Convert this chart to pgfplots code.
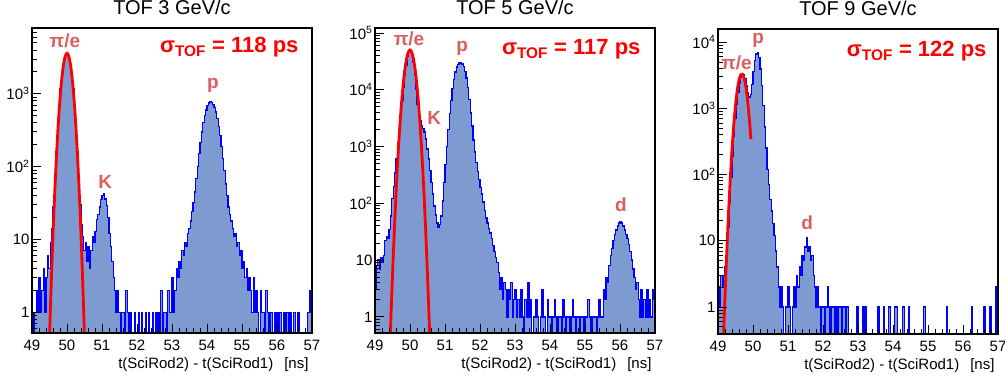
\documentclass[border=0pt]{standalone}
\usepackage{fontspec}
\setmainfont{Liberation Sans}
\usepackage{pgfplots}
\pgfplotsset{compat=1.18}
\definecolor{histfill}{RGB}{125,155,209}
\definecolor{lblred}{RGB}{220,95,95}
\pgfplotsset{
  tofax/.style={
    scale only axis, width=280bp, height=305bp,
    log origin y=infty,
    xmin=49, xmax=57,
    xtick={49,50,51,52,53,54,55,56,57},
    xticklabels={49,50,51,52,53,54,55,56,57},
    minor x tick num=4,
    tick pos=left, tick align=inside,
    major tick length=9bp, minor tick length=5bp,
    every tick/.append style={black, line width=0.8bp},
    axis line style={line width=1.8bp},
    axis on top,
    tick label style={font=\fontsize{15bp}{18bp}\selectfont},
    xticklabel style={anchor=base, yshift=-17bp},
    yticklabel style={anchor=east, xshift=1bp},
    title style={at={(axis description cs:0.5,1)}, anchor=base, yshift=8bp, font=\fontsize{20bp}{24bp}\selectfont},
    xlabel={t(SciRod2) - t(SciRod1)\hspace{11bp}[ns]},
    xlabel style={at={(axis description cs:1,0)}, anchor=base east, yshift=-35bp, font=\fontsize{15bp}{18bp}\selectfont},
  },
  myhist/.style={const plot mark left, draw=blue, line width=1.3bp, fill=histfill},
  myfit/.style={red, line width=2.8bp, smooth},
}
\tikzset{
  mylbl/.style={text=lblred, font=\fontsize{19bp}{22bp}\selectfont\bfseries},
  mysig/.style={text=red, anchor=base east, font=\fontsize{22bp}{26bp}\selectfont\bfseries},
}
\begin{document}
\begin{tikzpicture}
\useasboundingbox (-32bp,-45bp) rectangle (973bp,333bp);
% ---------------- Panel 1: 3 GeV/c ----------------
\begin{axis}[ymode=log, tofax, at={(0,0)}, title={TOF 3 GeV/c},
  ymin=0.52, ymax=8000,
  ytick={1,10,100,1000}, yticklabels={1,10,10\textsuperscript{2},10\textsuperscript{3}},
  minor ytick={0.6,0.7,0.8,0.9,2,3,4,5,6,7,8,9,20,30,40,50,60,70,80,90,200,300,400,500,600,700,800,900,2000,3000,4000,5000,6000,7000}]
\addplot[myhist] coordinates {
(49.00,1)(49.04,0.52)(49.08,1)(49.12,2)(49.16,1)(49.20,3)(49.24,1)(49.28,2)
(49.32,4)(49.36,1)(49.40,3)(49.44,6)(49.48,4)(49.52,9)(49.56,14)(49.60,28)
(49.64,66)(49.68,158)(49.72,344)(49.76,671)(49.80,1169)(49.84,1823)(49.88,2544)(49.92,3177)
(49.96,3550)(50.00,3550)(50.04,3177)(50.08,2544)(50.12,1823)(50.16,1169)(50.20,671)(50.24,344)
(50.28,158)(50.32,68)(50.36,30)(50.40,16)(50.44,11)(50.48,7)(50.52,9)(50.56,5)
(50.60,8)(50.64,4)(50.68,7)(50.72,11)(50.76,9)(50.80,13)(50.84,19)(50.88,22)
(50.92,28)(50.96,35)(51.00,40)(51.04,42)(51.08,36)(51.12,29)(51.16,20)(51.20,12)
(51.24,8)(51.28,5)(51.32,3)(51.36,2)(51.40,1)(51.44,2)(51.48,1)(51.52,0.52)
(51.56,1)(51.60,1)(51.64,0.52)(51.68,2)(51.72,1)(51.76,0.52)(51.80,1)(51.84,0.52)
(51.88,0.52)(51.92,1)(51.96,0.52)(52.00,0.52)(52.04,1)(52.08,0.52)(52.12,1)(52.16,0.52)
(52.20,0.52)(52.24,1)(52.28,0.52)(52.32,1)(52.36,0.52)(52.40,0.52)(52.44,1)(52.48,0.52)
(52.52,1)(52.56,0.52)(52.60,1)(52.64,0.52)(52.68,2)(52.72,0.52)(52.76,1)(52.80,1)
(52.84,0.52)(52.88,2)(52.92,1)(52.96,1)(53.00,3)(53.04,1)(53.08,2)(53.12,4)
(53.16,3)(53.20,5)(53.24,4)(53.28,7)(53.32,6)(53.36,9)(53.40,8)(53.44,12)
(53.48,14)(53.52,18)(53.56,24)(53.60,32)(53.64,45)(53.68,68)(53.72,100)(53.76,150)
(53.80,215)(53.84,300)(53.88,400)(53.92,505)(53.96,600)(54.00,690)(54.04,745)(54.08,770)
(54.12,760)(54.16,720)(54.20,650)(54.24,560)(54.28,460)(54.32,355)(54.36,265)(54.40,190)
(54.44,130)(54.48,88)(54.52,58)(54.56,40)(54.60,28)(54.64,22)(54.68,18)(54.72,14)
(54.76,11)(54.80,12)(54.84,8)(54.88,9)(54.92,6)(54.96,7)(55.00,4)(55.04,5)
(55.08,3)(55.12,4)(55.16,2)(55.20,3)(55.24,2)(55.28,1)(55.32,3)(55.36,1)
(55.40,2)(55.44,1)(55.48,0.52)(55.52,2)(55.56,1)(55.60,1)(55.64,0.52)(55.68,2)
(55.72,1)(55.76,0.52)(55.80,1)(55.84,1)(55.88,0.52)(55.92,1)(55.96,0.52)(56.00,1)
(56.04,0.52)(56.08,1)(56.12,0.52)(56.16,0.52)(56.20,1)(56.24,0.52)(56.28,1)(56.32,0.52)
(56.36,1)(56.40,0.52)(56.44,0.52)(56.48,1)(56.52,0.52)(56.56,0.52)(56.60,1)(56.64,0.52)
(56.68,0.52)(56.88,1)(56.92,2)(56.96,1)(57.00,1)
} \closedcycle;
\addplot[myfit] coordinates {
(49.45,0.069)(49.50,0.453)(49.55,2.50)(49.60,11.5)(49.65,44.2)(49.70,142)(49.75,382)(49.80,856)
(49.85,1605)(49.90,2514)(49.95,3291)(50.00,3600)(50.05,3291)(50.10,2514)(50.15,1605)(50.20,856)
(50.25,382)(50.30,142)(50.35,44.2)(50.40,11.5)(50.45,2.50)(50.50,0.453)(50.55,0.069)
};
\node[mylbl] at (axis cs:49.94,5300) {π/e};
\node[mylbl] at (axis cs:51.09,62) {K};
\node[mylbl] at (axis cs:54.17,1290) {p};
\node[mysig, xshift=-10bp, yshift=-25bp] at (rel axis cs:1,1) {σ\textsubscript{TOF} = 118 ps};
\end{axis}
% ---------------- Panel 2: 5 GeV/c ----------------
\begin{axis}[ymode=log, tofax, at={(343bp,0)}, title={TOF 5 GeV/c},
  ymin=0.52, ymax=122000,
  ytick={1,10,100,1000,10000,100000}, yticklabels={1,10,10\textsuperscript{2},10\textsuperscript{3},10\textsuperscript{4},10\textsuperscript{5}},
  minor ytick={0.6,0.7,0.8,0.9,2,3,4,5,6,7,8,9,20,30,40,50,60,70,80,90,200,300,400,500,600,700,800,900,2000,3000,4000,5000,6000,7000,8000,9000,20000,30000,40000,50000,60000,70000,80000,90000}]
\addplot[myhist] coordinates {
(49.00,3)(49.04,8)(49.08,10)(49.12,7)(49.16,11)(49.20,9)(49.24,12)(49.28,22)
(49.32,26)(49.36,24)(49.40,35)(49.44,60)(49.48,120)(49.52,200)(49.56,340)(49.60,620)
(49.64,1150)(49.68,2000)(49.72,3600)(49.76,6500)(49.80,11000)(49.84,18000)(49.88,27000)(49.92,38000)
(49.96,48000)(50.00,49000)(50.04,42000)(50.08,30000)(50.12,18000)(50.16,10000)(50.20,5500)(50.24,3600)
(50.28,2800)(50.32,2300)(50.36,2100)(50.40,1800)(50.44,1350)(50.48,900)(50.52,600)(50.56,380)
(50.60,230)(50.64,145)(50.68,90)(50.72,62)(50.76,45)(50.80,38)(50.84,42)(50.88,60)
(50.92,110)(50.96,230)(51.00,480)(51.04,1000)(51.08,2000)(51.12,3800)(51.16,6500)(51.20,10500)
(51.24,15000)(51.28,20500)(51.32,25000)(51.36,28000)(51.40,29500)(51.44,29800)(51.48,28500)(51.52,25500)
(51.56,21000)(51.60,16000)(51.64,11000)(51.68,6800)(51.72,3900)(51.76,2300)(51.80,1300)(51.84,800)
(51.88,520)(51.92,360)(51.96,260)(52.00,190)(52.04,145)(52.08,105)(52.12,75)(52.16,55)
(52.20,45)(52.24,36)(52.28,30)(52.32,24)(52.36,18)(52.40,14)(52.44,11)(52.48,9)
(52.52,6)(52.56,3)(52.60,5)(52.64,2)(52.68,4)(52.72,3)(52.76,1)(52.80,3)
(52.84,2)(52.88,4)(52.92,1)(52.96,2)(53.00,3)(53.04,1)(53.08,2)(53.12,1)
(53.16,3)(53.20,1)(53.24,0.52)(53.28,2)(53.32,1)(53.36,4)(53.40,1)(53.44,2)
(53.48,0.52)(53.52,1)(53.56,1)(53.60,2)(53.64,1)(53.68,0.52)(53.72,1)(53.76,3)
(53.80,1)(53.84,1)(53.88,0.52)(53.92,2)(53.96,1)(54.00,1)(54.04,0.52)(54.08,1)
(54.12,2)(54.16,1)(54.20,0.52)(54.24,1)(54.28,1)(54.32,0.52)(54.36,2)(54.40,1)
(54.44,0.52)(54.48,1)(54.52,1)(54.56,0.52)(54.60,1)(54.64,2)(54.68,1)(54.72,0.52)
(54.76,1)(54.80,1)(54.84,0.52)(54.88,1)(54.92,1)(54.96,0.52)(55.00,1)(55.04,1)
(55.08,2)(55.12,1)(55.16,0.52)(55.20,1)(55.24,1)(55.28,1)(55.32,0.52)(55.36,1)
(55.40,2)(55.44,1)(55.48,1)(55.52,3)(55.56,2)(55.60,5)(55.64,4)(55.68,8)
(55.72,12)(55.76,16)(55.80,22)(55.84,28)(55.88,34)(55.92,40)(55.96,45)(56.00,47)
(56.04,45)(56.08,40)(56.12,34)(56.16,28)(56.20,24)(56.24,19)(56.28,14)(56.32,10)
(56.36,7)(56.40,5)(56.44,3)(56.48,4)(56.52,2)(56.56,1)(56.60,3)(56.64,1)
(56.68,2)(56.72,1)(56.76,3)(56.80,1)(56.84,2)(56.88,1)(56.92,3)(56.96,2)(57.00,2)
} \closedcycle;
\addplot[myfit] coordinates {
(49.40,0.097)(49.45,0.79)(49.50,5.4)(49.55,30.7)(49.60,144.8)(49.65,570)(49.70,1868)(49.75,5100)
(49.80,11600)(49.85,21980)(49.90,34700)(49.95,45636)(50.00,50000)(50.05,45636)(50.10,34700)(50.15,21980)
(50.20,11600)(50.25,5100)(50.30,1868)(50.35,570)(50.40,144.8)(50.45,30.7)(50.50,5.4)(50.55,0.79)(50.60,0.097)
};
\node[mylbl] at (axis cs:49.97,78000) {π/e};
\node[mylbl] at (axis cs:50.69,3180) {K};
\node[mylbl] at (axis cs:51.49,54000) {p};
\node[mylbl] at (axis cs:56.03,96) {d};
\node[mysig, xshift=-11bp, yshift=-27bp] at (rel axis cs:1,1) {σ\textsubscript{TOF} = 117 ps};
\end{axis}
% ---------------- Panel 3: 9 GeV/c ----------------
\begin{axis}[ymode=log, tofax, at={(686bp,-1bp)}, title={TOF 9 GeV/c},
  ymin=0.39, ymax=15700,
  ytick={1,10,100,1000,10000}, yticklabels={1,10,10\textsuperscript{2},10\textsuperscript{3},10\textsuperscript{4}},
  minor ytick={0.4,0.5,0.6,0.7,0.8,0.9,2,3,4,5,6,7,8,9,20,30,40,50,60,70,80,90,200,300,400,500,600,700,800,900,2000,3000,4000,5000,6000,7000,8000,9000}]
\addplot[myhist] coordinates {
(49.00,2)(49.04,1)(49.08,3)(49.12,2)(49.16,3)(49.20,4)(49.24,8)(49.28,16)
(49.32,38)(49.36,90)(49.40,190)(49.44,380)(49.48,700)(49.52,1150)(49.56,1750)(49.60,2400)
(49.64,2950)(49.68,3250)(49.72,3200)(49.76,2800)(49.80,2200)(49.84,1700)(49.88,1480)(49.92,1600)
(49.96,2300)(50.00,3600)(50.04,5200)(50.08,6600)(50.12,6900)(50.16,5800)(50.20,3900)(50.24,2200)
(50.28,1100)(50.32,520)(50.36,250)(50.40,120)(50.44,70)(50.48,42)(50.52,28)(50.56,18)
(50.60,12)(50.64,7)(50.68,4)(50.72,2)(50.76,1)(50.80,2)(50.84,1)(50.88,0.39)
(50.92,1)(50.96,1)(51.00,2)(51.04,1)(51.08,0.39)(51.12,1)(51.16,2)(51.20,1)
(51.24,3)(51.28,2)(51.32,4)(51.36,3)(51.40,6)(51.44,5)(51.48,8)(51.52,11)
(51.56,7)(51.60,8)(51.64,5)(51.68,6)(51.72,3)(51.76,2)(51.80,1)(51.84,2)
(51.88,1)(51.92,0.39)(51.96,1)(52.00,1)(52.04,0.39)(52.08,1)(52.12,2)(52.16,1)
(52.20,0.39)(52.24,1)(52.28,1)(52.32,0.39)(52.36,1)(52.40,0.39)(52.44,1)(52.48,1)
(52.52,0.39)(52.56,1)(52.60,1)(52.64,0.39)(52.68,1)(52.72,0.39)(52.96,1)(53.00,0.39)
(53.12,1)(53.16,0.39)(53.20,1)(53.24,0.39)(53.56,1)(53.60,0.39)(53.72,1)(53.76,0.39)
(53.88,1)(53.92,0.39)(54.04,1)(54.08,1)(54.12,0.39)(54.28,1)(54.32,0.39)(54.44,1)
(54.48,0.39)(54.88,1)(54.92,0.39)(55.52,1)(55.56,0.39)(56.24,1)(56.28,0.39)(56.60,1)
(56.64,0.39)(56.76,1)(56.80,0.39)(56.92,2)(56.96,0.39)(57.00,0.39)
} \closedcycle;
\addplot[myfit] coordinates {
(49.15,0.26)(49.20,1.44)(49.25,6.6)(49.30,25.8)(49.35,85)(49.40,237)(49.45,558)(49.50,1111)
(49.55,1870)(49.60,2662)(49.65,3202)(49.70,3256)(49.75,2799)(49.80,2034)(49.85,1250)(49.90,649)(49.94,341)
};
\node[mylbl] at (axis cs:49.53,4900) {π/e};
\node[mylbl] at (axis cs:50.15,10600) {p};
\node[mylbl] at (axis cs:51.55,19) {d};
\node[mysig, xshift=-8bp, yshift=-28bp] at (rel axis cs:1,1) {σ\textsubscript{TOF} = 122 ps};
\end{axis}
\end{tikzpicture}
\end{document}
